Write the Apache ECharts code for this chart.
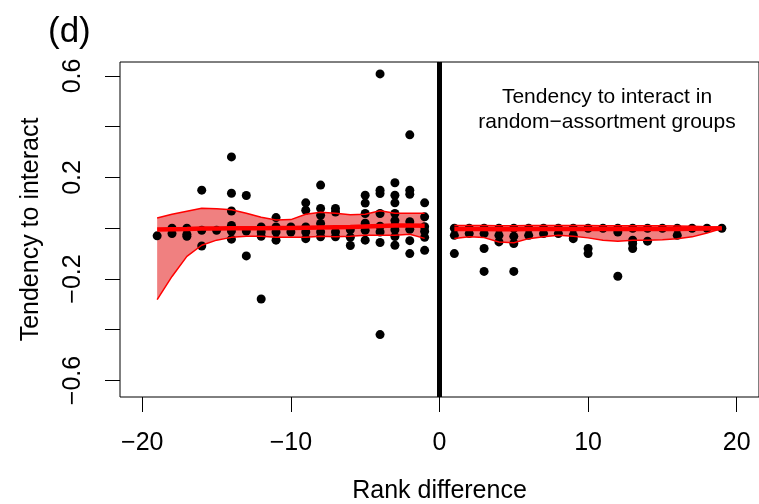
<!DOCTYPE html>
<html>
<head>
<meta charset="utf-8">
<script src="https://cdn.jsdelivr.net/npm/echarts@6/dist/echarts.min.js"></script>
<style>html,body{margin:0;padding:0;background:#fff}#c{width:759px;height:504px}</style>
</head>
<body>
<div id="c"></div>
<script>
// ---- data ----
const xTicks = [-20, -10, 0, 10, 20];
const yTicks = [-0.6, -0.4, -0.2, 0, 0.2, 0.4, 0.6];
const yTickLabels = [-0.6, -0.2, 0.2, 0.6];

// band: left side (rank differences -19..-1)
const leftX = [-19,-18,-17,-16,-15,-14,-13,-12,-11,-10,-9,-8,-7,-6,-5,-4,-3,-2,-1];
const leftUpper = [0.040,0.055,0.067,0.079,0.077,0.073,0.059,0.043,0.032,0.034,0.055,0.063,0.059,0.053,0.055,0.069,0.059,0.059,0.059];
const leftLower = [-0.281,-0.190,-0.111,-0.067,-0.047,-0.036,-0.032,-0.032,-0.036,-0.036,-0.036,-0.032,-0.034,-0.032,-0.028,-0.028,-0.028,-0.024,-0.040];
const leftMean  = [-0.005,-0.004,-0.003,-0.001,-0.001,0.000,0.000,0.000,0.001,0.001,0.002,0.003,0.004,0.005,0.007,0.009,0.011,0.011,0.010];

// band: right side (rank differences 1..19)
const rightX = [1,2,3,4,5,6,7,8,9,10,11,12,13,14,15,16,17,18,19];
const rightUpper = [0.011,0.011,0.011,0.010,0.010,0.011,0.011,0.011,0.011,0.011,0.010,0.010,0.010,0.010,0.010,0.009,0.008,0.006,0.002];
const rightLower = [-0.040,-0.034,-0.037,-0.054,-0.057,-0.041,-0.034,-0.028,-0.032,-0.038,-0.047,-0.051,-0.047,-0.047,-0.045,-0.041,-0.034,-0.019,-0.001];
const rightMean  = [-0.003,-0.003,-0.003,-0.004,-0.004,-0.003,-0.003,-0.003,-0.003,-0.003,-0.003,-0.003,-0.003,-0.003,-0.003,-0.003,-0.002,-0.001,0.000];

// observed points
const pointX = [
  -19,
  -18,-18,
  -17,-17,-17,
  -16,-16,-16,
  -15,
  -14,-14,-14,-14,-14,-14,
  -13,-13,-13,
  -12,-12,-12,-12,
  -11,-11,-11,-11,
  -10,-10,
  -9,-9,-9,-9,-9,
  -8,-8,-8,-8,-8,-8,
  -7,-7,-7,-7,
  -6,-6,-6,
  -5,-5,-5,-5,-5,-5,
  -4,-4,-4,-4,-4,-4,-4,-4,
  -3,-3,-3,-3,-3,-3,-3,-3,-3,
  -2,-2,-2,-2,-2,-2,-2,
  -1,-1,-1,-1,-1,-1,
  1,1,1,
  2,2,
  3,3,3,3,
  4,4,4,
  5,5,5,5,
  6,6,
  7,7,
  8,8,
  9,9,9,
  10,10,10,
  11,
  12,12,12,
  13,13,13,13,
  14,14,
  15,
  16,16,
  17,
  18,
  19
];
const pointY = [
  -0.030,
  0.000,-0.021,
  0.000,-0.024,-0.032,
  0.150,-0.008,-0.070,
  -0.008,
  0.281,0.138,0.068,0.011,-0.011,-0.043,
  0.129,-0.011,-0.109,
  0.005,-0.015,-0.032,-0.279,
  0.042,0.005,-0.015,-0.047,
  0.005,-0.015,
  0.100,0.071,0.005,-0.015,-0.041,
  0.170,0.078,0.051,0.019,-0.015,-0.034,
  0.078,0.064,-0.015,-0.034,
  -0.006,-0.036,-0.068,
  0.130,0.099,0.058,0.020,-0.008,-0.047,
  0.608,0.150,0.137,0.058,0.008,-0.015,-0.056,-0.419,
  0.179,0.130,0.100,0.058,0.030,0.010,-0.006,-0.033,-0.067,
  0.368,0.150,0.134,0.026,-0.004,-0.049,-0.100,
  0.100,0.045,0.006,-0.012,-0.036,-0.087,
  0.000,-0.028,-0.100,
  0.000,-0.021,
  0.000,-0.021,-0.080,-0.170,
  0.000,-0.028,-0.054,
  0.000,-0.032,-0.060,-0.170,
  0.000,-0.028,
  0.000,-0.021,
  0.000,-0.021,
  0.000,-0.028,-0.041,
  0.000,-0.080,-0.100,
  0.000,
  0.000,-0.015,-0.189,
  0.000,-0.047,-0.060,-0.080,
  0.000,-0.051,
  0.000,
  0.000,-0.028,
  0.000,
  0.000,
  0.000
];

const panelLabel = '(d)';
const noteLines = ['Tendency to interact in', 'random\u2212assortment groups'];
const xTitle = 'Rank difference';
const yTitle = 'Tendency to interact';

// ---- chart ----
const FONT = 'Liberation Sans, Arial, Helvetica, sans-serif';
const fmt = v => { const s = (Math.abs(v) < 1e-9 ? 0 : v); const t = Number.isInteger(s) ? String(s) : s.toFixed(1); return t.replace('-', '\u2212'); };
const zip = (xs, ys) => xs.map((x, i) => [x, ys[i]]);

function bandSeries(xs, up, lo) {
  return {
    type: 'custom',
    coordinateSystem: 'cartesian2d',
    silent: true,
    z: 1,
    clip: true,
    data: [[xs[0], up[0]]],
    renderItem: function (params, api) {
      const top = xs.map((x, i) => api.coord([x, up[i]]));
      const bot = xs.map((x, i) => api.coord([x, lo[i]])).reverse();
      return { type: 'polygon', shape: { points: top.concat(bot) }, style: { fill: '#F08080', stroke: null } };
    }
  };
}
function lineSeries(xs, ys, w) {
  return {
    type: 'line', data: zip(xs, ys), symbol: 'none', silent: true, z: 4,
    lineStyle: { color: '#FF0000', width: w }, itemStyle: { color: '#FF0000' }
  };
}

const chart = echarts.init(document.getElementById('c'), null, { renderer: 'canvas' });
chart.setOption({
  animation: false,
  backgroundColor: '#ffffff',
  textStyle: { fontFamily: FONT },
  grid: { left: 120, right: 0, top: 62, bottom: 107, show: true, borderColor: '#000', borderWidth: 1, backgroundColor: 'transparent', containLabel: false, outerBoundsMode: 'none' },
  xAxis: {
    type: 'value', min: -21.5, max: 21.5,
    axisLine: { show: false, onZero: false },
    splitLine: { show: false },
    axisTick: { show: true, customValues: xTicks, length: 15, lineStyle: { color: '#000', width: 1 } },
    axisLabel: { customValues: xTicks, formatter: fmt, color: '#000', fontSize: 25, fontFamily: FONT, margin: 34 },
    name: xTitle, nameLocation: 'middle', nameGap: 82,
    nameTextStyle: { color: '#000', fontSize: 25, fontFamily: FONT }
  },
  yAxis: {
    type: 'value', min: -0.665, max: 0.655,
    axisLine: { show: false, onZero: false },
    splitLine: { show: false },
    axisTick: { show: true, customValues: yTicks, length: 15, lineStyle: { color: '#000', width: 1 } },
    axisLabel: { customValues: yTickLabels, formatter: fmt, rotate: 90, color: '#000', fontSize: 25, fontFamily: FONT, margin: 34 },
    name: yTitle, nameLocation: 'middle', nameGap: 76, nameRotate: 90,
    nameTextStyle: { color: '#000', fontSize: 25, fontFamily: FONT }
  },
  graphic: [
    { type: 'text', left: 48, top: 15, style: { text: panelLabel, fontSize: 35, fontFamily: FONT, fill: '#000' } },
    { type: 'text', x: 607, y: 97, style: { text: noteLines[0], fontSize: 21, fontFamily: FONT, fill: '#000', align: 'center', verticalAlign: 'middle' } },
    { type: 'text', x: 607, y: 122, style: { text: noteLines[1], fontSize: 21, fontFamily: FONT, fill: '#000', align: 'center', verticalAlign: 'middle' } }
  ],
  series: [
    bandSeries(leftX, leftUpper, leftLower),
    bandSeries(rightX, rightUpper, rightLower),
    {
      type: 'scatter', data: zip(pointX, pointY), symbol: 'circle', symbolSize: 9, z: 3, silent: true,
      itemStyle: { color: '#000', opacity: 1 },
      markLine: {
        silent: true, symbol: ['none', 'none'], label: { show: false },
        lineStyle: { color: '#000', width: 5, type: 'solid' },
        data: [{ xAxis: 0 }]
      }
    },
    lineSeries(leftX, leftUpper, 1.5),
    lineSeries(leftX, leftLower, 1.5),
    lineSeries(leftX, leftMean, 4.5),
    lineSeries(rightX, rightUpper, 1.5),
    lineSeries(rightX, rightLower, 1.5),
    lineSeries(rightX, rightMean, 4.5)
  ]
});
</script>
</body>
</html>
